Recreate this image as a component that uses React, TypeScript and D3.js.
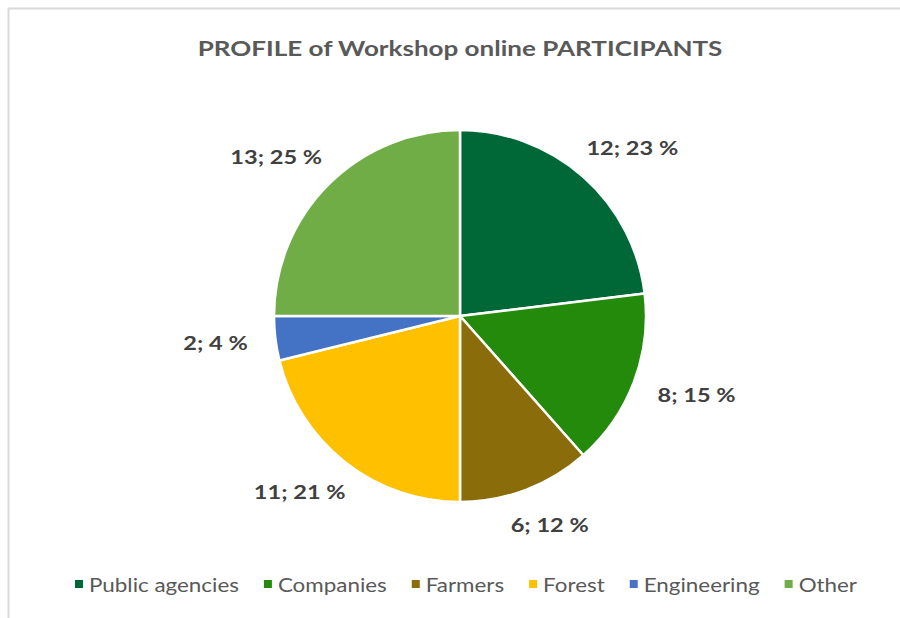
import React, { useEffect, useRef } from 'react';
import * as d3 from 'd3';

const categories = ['Public agencies', 'Companies', 'Farmers', 'Forest', 'Engineering', 'Other'];
const counts = [12, 8, 6, 11, 2, 13];
const percentLabels = ['23 %', '15 %', '12 %', '21 %', '4 %', '25 %'];
const colors = ['#006837', '#238a0c', '#8a6c0b', '#ffc000', '#4472c4', '#70ad47'];

const W = 900;
const H = 618;
const FONT = 'Lato, "Open Sans", sans-serif';
// reference glyphs are wider than Lato; stretch horizontally
const SX = 1.24;
const SX_LEG = 1.12;

export default function App() {
  const ref = useRef<SVGSVGElement | null>(null);

  useEffect(() => {
    const svg = d3.select(ref.current);
    svg.selectAll('*').remove();

    // frame edges (only top + left visible)
    svg.append('line').attr('x1', 8).attr('x2', W).attr('y1', 8.5).attr('y2', 8.5)
      .attr('stroke', '#d9d9d9').attr('stroke-width', 2);
    svg.append('line').attr('x1', 8.5).attr('x2', 8.5).attr('y1', 8).attr('y2', H)
      .attr('stroke', '#d9d9d9').attr('stroke-width', 2);

    svg.append('text')
      .attr('transform', `translate(460,56) scale(${SX},1)`)
      .attr('text-anchor', 'middle')
      .attr('font-family', FONT).attr('font-weight', 700).attr('font-size', 21)
      .attr('fill', '#595959')
      .text('PROFILE of Workshop online PARTICIPANTS');

    const cx = 460, cy = 316, r = 186;
    const data = categories.map((c, i) => ({ name: c, value: counts[i], pct: percentLabels[i], color: colors[i] }));
    const pie = d3.pie<any>().value((d) => d.value).sort(null);
    const arcs = pie(data);
    const arc = d3.arc<any>().innerRadius(0).outerRadius(r);

    const g = svg.append('g').attr('transform', `translate(${cx},${cy})`);
    g.selectAll('path.slice')
      .data(arcs)
      .join('path')
      .attr('class', 'slice')
      .attr('d', arc)
      .attr('fill', (d) => d.data.color)
      .attr('stroke', '#fff')
      .attr('stroke-width', 2.5)
      .attr('stroke-linejoin', 'round');

    // outside labels: anchor on a ring, pushed out by half the label box
    const R = 214;
    const lblH = 20;
    const lbls = g.selectAll('g.lbl')
      .data(arcs)
      .join('g')
      .attr('class', 'lbl');
    const texts = lbls.append('text')
      .attr('transform', `scale(${SX},1)`)
      .attr('text-anchor', 'middle')
      .attr('dy', '0.35em')
      .attr('font-family', FONT).attr('font-weight', 700).attr('font-size', 19)
      .attr('fill', '#404040')
      .text((d) => `${d.data.value}; ${d.data.pct}`);
    texts.each(function (d: any) {
      const w = (this as SVGTextElement).getComputedTextLength() * SX;
      const a = (d.startAngle + d.endAngle) / 2;
      const s = Math.sin(a), c = Math.cos(a);
      const x = R * s + (w / 2) * s;
      const y = -R * c - (lblH / 2) * c;
      d3.select((this as SVGTextElement).parentNode as SVGGElement).attr('transform', `translate(${x},${y})`);
    });

    // legend, centred and laid out by measured text widths
    const lg = svg.append('g').attr('transform', `translate(0,585)`);
    const items = lg.selectAll('g.item').data(data).join('g').attr('class', 'item');
    items.append('rect')
      .attr('width', 8).attr('height', 8).attr('y', -5)
      .attr('fill', (d) => d.color);
    items.append('text')
      .attr('transform', `translate(14,0) scale(${SX_LEG},1)`)
      .attr('dy', '0.35em')
      .attr('font-family', FONT).attr('font-size', 20)
      .attr('fill', '#595959')
      .text((d) => d.name);
    const gap = 25;
    const widths: number[] = [];
    items.each(function () {
      const t = d3.select(this).select('text').node() as SVGTextElement;
      widths.push(14 + t.getComputedTextLength() * SX_LEG);
    });
    const total = d3.sum(widths) + gap * (widths.length - 1);
    let x = 466 - total / 2;
    items.attr('transform', (_, i) => {
      const tx = x;
      x += widths[i] + gap;
      return `translate(${tx},0)`;
    });
  }, []);

  return (
    <svg
      ref={ref}
      width={W}
      height={H}
      style={{ position: 'absolute', left: 0, top: 0, background: '#fff' }}
    />
  );
}
